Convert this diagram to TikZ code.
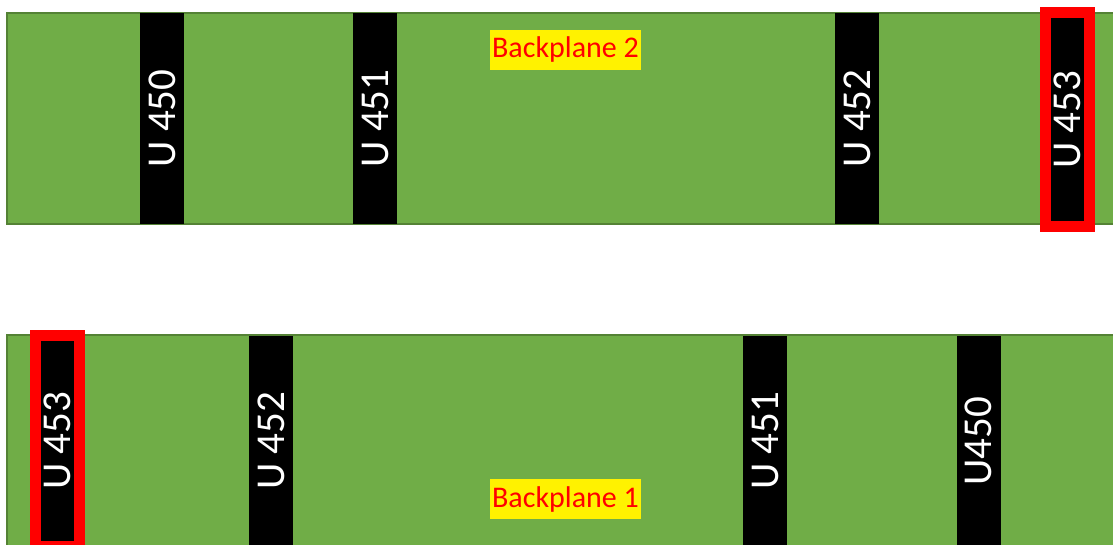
\documentclass[tikz,border=0pt]{standalone}
\usepackage{fontspec}
\setmainfont{Carlito}
\usepackage{tikz}
\definecolor{boardgreen}{HTML}{70AD47}
\definecolor{boardedge}{HTML}{548235}
\tikzset{
  board/.style={fill=boardgreen, draw=boardedge, line width=0.75pt},
  conn/.style={fill=black, text=white, rotate=90, inner sep=0pt,
    minimum width=105.5pt, minimum height=22pt, font=\fontsize{20.5}{24}\selectfont},
  marked/.style={draw=red, line width=5.5pt},
  tag/.style={fill=yellow, text=red, inner sep=0pt, minimum width=75.5pt,
    minimum height=20pt, font=\fontsize{15}{18}\selectfont},
}

\begin{document}
\begin{tikzpicture}[x=0.5pt, y=-0.5pt]
  \useasboundingbox (0,0) rectangle (1113,545);
  \clip (0,0) rectangle (1113,545);
  % backplane 2 (top)
  \draw[board] (7,13) rectangle (1125,224);
  \node[conn] (topA) at (162,118.5) {U 450};
  \node[conn] (topB) at (375,118.5) {U 451};
  \node[conn] (topC) at (857,118.5) {U 452};
  \node[conn, marked, minimum width=107pt] (topD) at (1067,120) {U 453};
  \node[tag] (topname) at (565.5,50) {Backplane 2};
  % backplane 1 (bottom)
  \draw[board] (7,335) rectangle (1125,547);
  \node[conn, marked] (botD) at (57.5,441) {U 453};
  \node[conn] (botC) at (271,441) {U 452};
  \node[conn] (botB) at (765,441) {U 451};
  \node[conn] (botA) at (978.5,441) {U450};
  \node[tag] (botname) at (565.5,499) {Backplane 1};
\end{tikzpicture}
\end{document}
